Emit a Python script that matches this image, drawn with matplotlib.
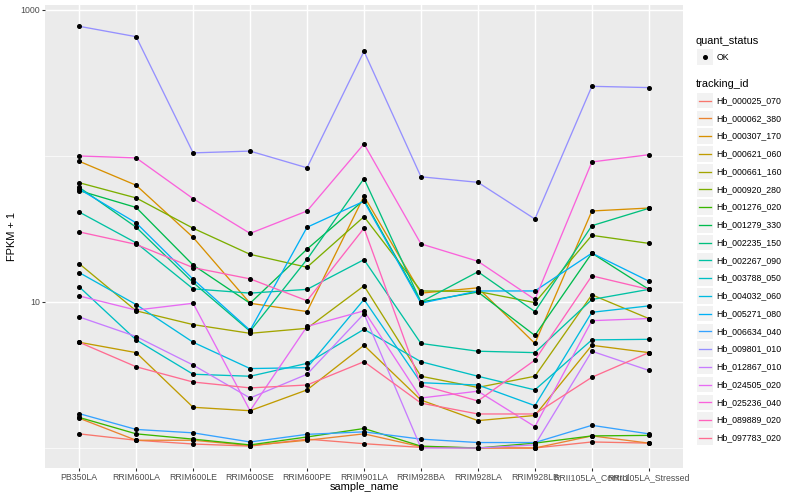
import matplotlib
matplotlib.use("Agg")
import matplotlib.pyplot as plt
from matplotlib.ticker import FixedLocator, NullFormatter
from matplotlib.patches import Rectangle

plt.rcParams['font.family'] = ['Liberation Sans', 'DejaVu Sans']

samples = ["PB350LA", "RRIM600LA", "RRIM600LE", "RRIM600SE", "RRIM600PE",
           "RRIM901LA", "RRIM928BA", "RRIM928LA", "RRIM928LB",
           "RRII105LA_Control", "RRII105LA_Stressed"]

tracking_ids = ["Hb_000025_070", "Hb_000062_380", "Hb_000307_170", "Hb_000621_060",
                "Hb_000661_160", "Hb_000920_280", "Hb_001276_020", "Hb_001279_330",
                "Hb_002235_150", "Hb_002267_090", "Hb_003788_050", "Hb_004032_060",
                "Hb_005271_080", "Hb_006634_040", "Hb_009801_010", "Hb_012867_010",
                "Hb_024505_020", "Hb_025236_040", "Hb_089889_020", "Hb_097783_020"]

# FPKM + 1 values, one list per tracking_id, in sample order
hb_000025_070 = [1.25, 1.13, 1.065, 1.03, 1.15, 1.07, 1.01, 1.0, 1.0, 1.1, 1.08]
hb_000062_380 = [1.6, 1.13, 1.13, 1.04, 1.13, 1.25, 1.02, 1.0, 1.0, 1.21, 1.08]
hb_000307_170 = [92, 63, 27.7, 9.8, 8.6, 53, 11.5, 12.5, 5.2, 42, 44]
hb_000621_060 = [5.3, 4.5, 1.9, 1.8, 2.5, 5.05, 2.13, 1.54, 1.67, 5.05, 4.5]
hb_000661_160 = [18.3, 8.7, 7.0, 6.1, 6.6, 12.9, 3.1, 2.6, 3.1, 11.2, 7.7]
hb_000920_280 = [65.6, 51.6, 32, 21.2, 17.3, 38.4, 11.9, 11.8, 9.9, 28.6, 25.2]
hb_001276_020 = [1.62, 1.25, 1.15, 1.05, 1.19, 1.36, 1.03, 1.0, 1.08, 1.21, 1.22]
hb_001279_330 = [57.9, 44.4, 17.9, 9.8, 23, 50, 10, 11.7, 5.9, 21.6, 12.2]
hb_002235_150 = [61, 32.5, 13.6, 6.3, 19.6, 70, 10, 16.1, 8.6, 33.3, 43.8]
hb_002267_090 = [41.3, 25.4, 12.3, 11.5, 12.2, 19.5, 5.2, 4.6, 4.5, 10.4, 12.2]
hb_003788_050 = [12.7, 5.5, 3.2, 3.1, 3.8, 6.5, 3.9, 3.1, 2.5, 5.5, 5.55]
hb_004032_060 = [15.9, 9.6, 5.3, 3.5, 3.55, 10.4, 2.8, 2.7, 1.95, 8.5, 9.4]
hb_005271_080 = [59.4, 34.8, 14.3, 6.4, 32.5, 49, 9.8, 11.9, 11.9, 21.6, 13.9]
hb_006634_040 = [1.72, 1.34, 1.27, 1.10, 1.24, 1.29, 1.15, 1.09, 1.09, 1.43, 1.25]
hb_009801_010 = [773, 656, 105, 108, 83, 521, 72, 66, 37, 300, 294]
hb_012867_010 = [7.9, 5.8, 3.7, 2.2, 3.2, 8.3, 1.0, 1.0, 1.05, 4.6, 3.4]
hb_024505_020 = [11.0, 8.8, 9.8, 1.8, 6.8, 8.7, 2.2, 2.45, 1.4, 7.45, 7.7]
hb_025236_040 = [100, 97, 51, 29.5, 42, 121, 25, 19, 10.4, 91, 102]
hb_089889_020 = [30.2, 24.8, 17.2, 14.4, 10.2, 32, 2.7, 2.1, 4.0, 15.1, 12.2]
hb_097783_020 = [5.3, 3.6, 2.83, 2.58, 2.7, 3.9, 2.03, 1.71, 1.71, 3.05, 4.5]

series = [hb_000025_070, hb_000062_380, hb_000307_170, hb_000621_060, hb_000661_160,
          hb_000920_280, hb_001276_020, hb_001279_330, hb_002235_150, hb_002267_090,
          hb_003788_050, hb_004032_060, hb_005271_080, hb_006634_040, hb_009801_010,
          hb_012867_010, hb_024505_020, hb_025236_040, hb_089889_020, hb_097783_020]

y_major = [10, 1000]
y_minor = [1, 100]

colors = ["#F8766D", "#EA8331", "#D89000", "#C09B00", "#A3A500", "#7CAE00", "#39B600",
          "#00BB4E", "#00BF7D", "#00C1A3", "#00BFC4", "#00BAE0", "#00B0F6", "#35A2FF",
          "#9590FF", "#C77CFF", "#E76BF3", "#FA62DB", "#FF62BC", "#FF6C91"]

W, H = 800, 500
fig = plt.figure(figsize=(8, 5), dpi=100)
fig.patch.set_facecolor("white")

pl, pr, pt, pb = 45, 683, 5, 468
ax = fig.add_axes([pl / W, 1 - pb / H, (pr - pl) / W, (pb - pt) / H])
ax.set_facecolor("#EBEBEB")
for s in ax.spines.values():
    s.set_visible(False)

xpos = list(range(len(samples)))
for vals, c in zip(series, colors):
    ax.plot(xpos, vals, color=c, lw=0.95, zorder=2, solid_capstyle="butt")
for vals in series:
    ax.plot(xpos, vals, ls="none", marker="o", ms=2.6, color="black", zorder=3)

ax.set_yscale("log")
ax.set_ylim(10 ** -0.137, 10 ** 3.034)
ax.set_xlim(-0.6, len(samples) - 1 + 0.6)
ax.yaxis.set_major_locator(FixedLocator(y_major))
ax.set_yticklabels([str(v) for v in y_major])
ax.yaxis.set_minor_locator(FixedLocator(y_minor))
ax.yaxis.set_minor_formatter(NullFormatter())
ax.set_xticks(xpos)
ax.set_xticklabels(samples)

ax.grid(which="major", color="white", lw=1.05, zorder=0)
ax.grid(which="minor", axis="y", color="white", lw=0.5, zorder=0)
ax.set_axisbelow(True)
ax.tick_params(which="major", length=2.0, width=0.77, color="#333333",
               labelcolor="#4D4D4D", labelsize=6.3, pad=1.6)
ax.tick_params(which="minor", length=0)

fig.text(364 / W, 1 - 487 / H, "sample_name", ha="center", va="center",
         fontsize=7.9, color="black")
fig.text(12 / W, 1 - 236.5 / H, "FPKM + 1", ha="center", va="center",
         rotation=90, fontsize=7.9, color="black")

# legend (drawn in pixel coordinates)
lax = fig.add_axes([0, 0, 1, 1], zorder=5)
lax.set_xlim(0, W)
lax.set_ylim(H, 0)
lax.axis("off")
lax.patch.set_alpha(0)

lax.text(696, 40.7, "quant_status", ha="left", va="center", fontsize=7.9)
lax.add_patch(Rectangle((697.3, 49.3), 15.4, 15.4, facecolor="#F2F2F2", edgecolor="none"))
lax.plot([705], [57], marker="o", ms=2.6, color="black")
lax.text(716.5, 57, "OK", ha="left", va="center", fontsize=6.3)

lax.text(696, 84.3, "tracking_id", ha="left", va="center", fontsize=7.9)
for i, (tid, c) in enumerate(zip(tracking_ids, colors)):
    yc = 100.7 + 17.74 * i
    lax.add_patch(Rectangle((697.3, yc - 7.7), 15.4, 15.4, facecolor="#F2F2F2",
                            edgecolor="none"))
    lax.plot([699, 711], [yc, yc], color=c, lw=0.95)
    lax.text(716.7, yc, tid, ha="left", va="center", fontsize=6.3)

fig.savefig("out.png", dpi=100)
